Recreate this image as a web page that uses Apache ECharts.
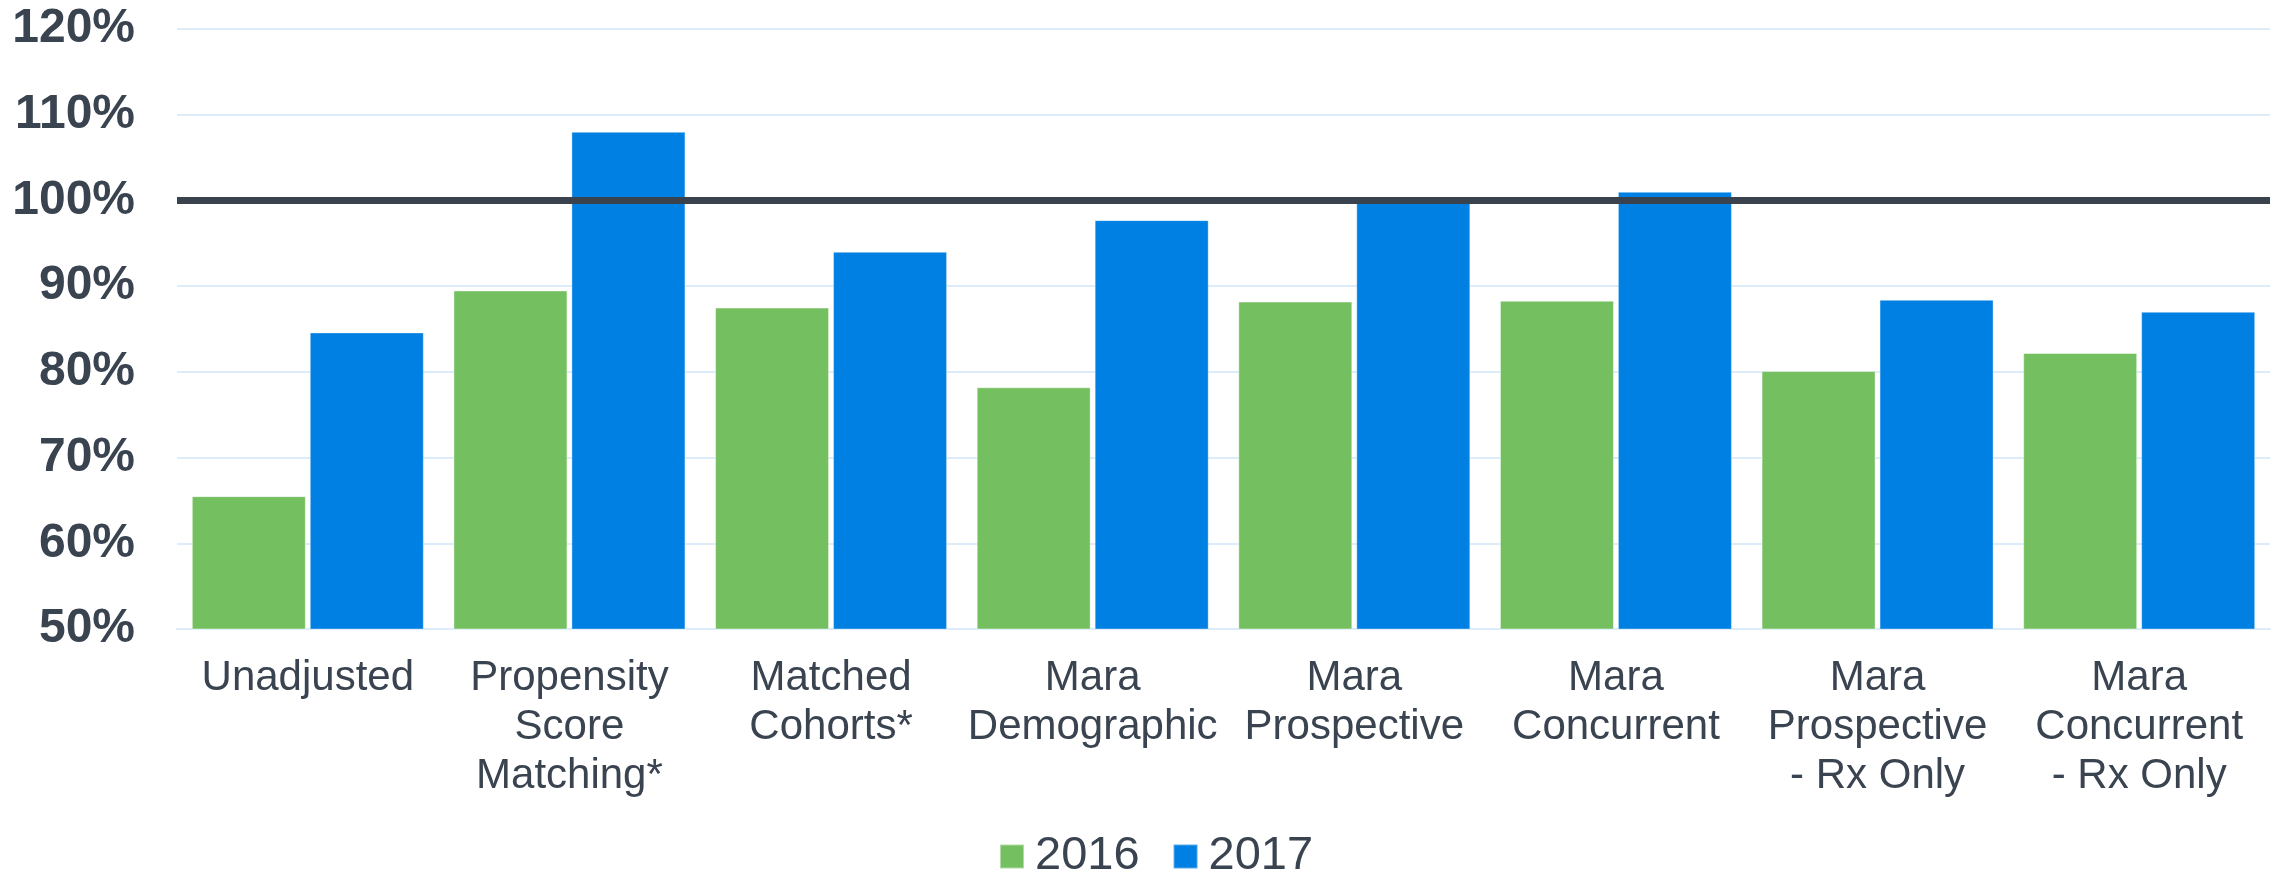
<!DOCTYPE html>
<html>
<head>
<meta charset="utf-8">
<script src="https://cdn.jsdelivr.net/npm/echarts@6/dist/echarts.min.js"></script>
<style>
  html, body { margin: 0; padding: 0; background: #fff; }
  #chart { width: 2275px; height: 872px; }
</style>
</head>
<body>
<div id="chart"></div>
<script>
// categories and values (percent)
const categories = [
  'Unadjusted',
  'Propensity\nScore\nMatching*',
  'Matched\nCohorts*',
  'Mara\nDemographic',
  'Mara\nProspective',
  'Mara\nConcurrent',
  'Mara\nProspective\n- Rx Only',
  'Mara\nConcurrent\n- Rx Only'
]
const values2016 = [65.5, 89.5, 87.5, 78.2, 88.2, 88.3, 80.1, 82.2]
const values2017 = [84.6, 108.0, 94.0, 97.7, 100.0, 101.0, 88.4, 87.0]
const referenceLevel = 100

const textColor = '#3a4350'
const chart = echarts.init(document.getElementById('chart'))

const option = {
  animation: false,
  grid: { left: 177, right: 5, top: 29, bottom: 243 },
  legend: {
    left: 994,
    top: 828,
    itemWidth: 24,
    itemHeight: 24,
    itemGap: 33,
    icon: 'rect',
    textStyle: { fontFamily: 'Liberation Sans', fontSize: 47, color: textColor, padding: [0, 0, 0, 6] },
    data: ['2016', '2017']
  },
  xAxis: {
    type: 'category',
    data: categories,
    axisLine: { show: true, lineStyle: { color: '#dcecfa', width: 2 } },
    axisTick: { show: false },
    axisLabel: {
      interval: 0,
      margin: 25,
      fontFamily: 'Liberation Sans',
      fontSize: 42,
      lineHeight: 49,
      color: textColor
    }
  },
  yAxis: {
    type: 'value',
    min: 50,
    max: 120,
    interval: 10,
    axisLine: { show: false },
    axisTick: { show: false },
    splitLine: { lineStyle: { color: '#dcecfa', width: 2 } },
    axisLabel: {
      margin: 42,
      formatter: '{value}%',
      fontFamily: 'Liberation Sans',
      fontWeight: 'bold',
      fontSize: 48,
      color: textColor
    }
  },
  series: [
    {
      name: '2016',
      type: 'bar',
      data: values2016,
      barWidth: 114,
      barGap: '3.5%',
      itemStyle: { color: '#74bf5f', borderColor: 'rgba(255,255,255,0.45)', borderWidth: 1 }
    },
    {
      name: '2017',
      type: 'bar',
      data: values2017,
      barWidth: 114,
      itemStyle: { color: '#0080e2', borderColor: 'rgba(255,255,255,0.35)', borderWidth: 1 },
      markLine: {
        silent: true,
        symbol: 'none',
        label: { show: false },
        lineStyle: { color: '#3a424d', width: 7, type: 'solid' },
        data: [{ yAxis: referenceLevel }]
      }
    }
  ]
}
chart.setOption(option)
</script>
</body>
</html>
